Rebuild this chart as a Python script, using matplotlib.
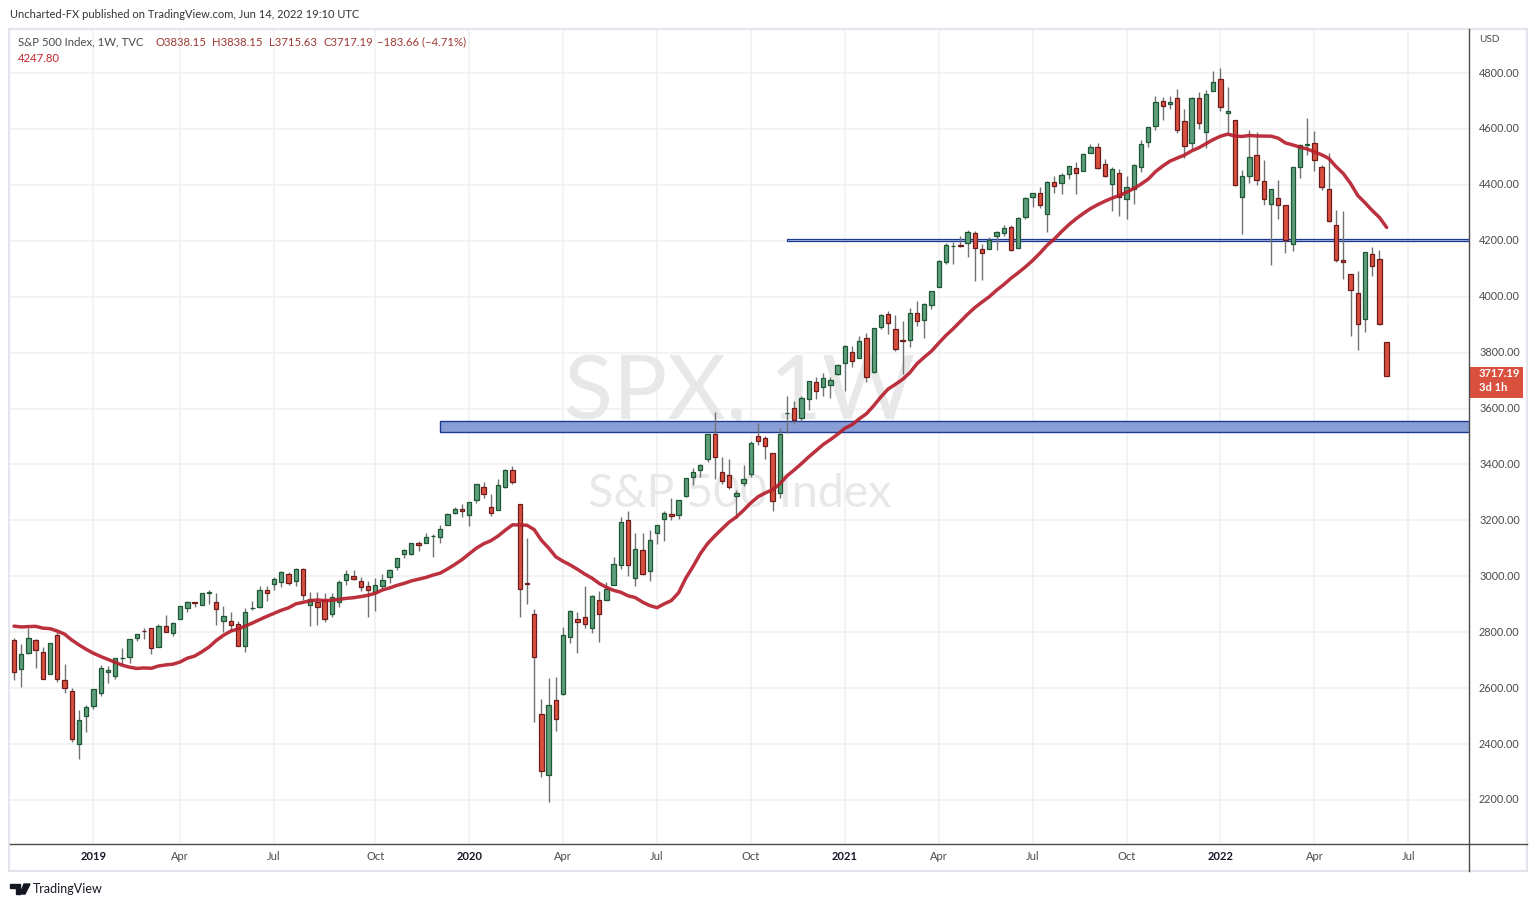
import numpy as np
import pandas as pd
import matplotlib
matplotlib.use("Agg")
import matplotlib.pyplot as plt
from matplotlib.patches import Rectangle, Polygon
from matplotlib.lines import Line2D

plt.rcParams['font.family'] = ['Lato', 'DejaVu Sans']

# weekly S&P 500 bars, first bar = week of 2018-10-22
first_week = "2018-10-22"

# closes of the 19 weeks before the first bar (only used to seed the 20 SMA)
lead_closes = [2779.66, 2754.88, 2718.37, 2759.82, 2801.31, 2801.83, 2818.82, 2840.35,
               2833.28, 2850.13, 2874.69, 2901.52, 2871.68, 2904.98, 2929.67, 2913.98,
               2885.57, 2767.13, 2767.78]

opens = [
    # 2018
    2773.94, 2669.27, 2726.37, 2773.93, 2730.74, 2649.97, 2790.50, 2630.86, 2590.75, 2400.56, 2498.94,
    # 2019
    2535.61, 2582.10, 2657.88, 2644.89, 2706.49, 2712.40, 2780.67, 2804.35, 2814.37, 2747.61, 2822.61,
    2796.01, 2848.63, 2888.32, 2908.32, 2898.78, 2940.58, 2908.89, 2840.19, 2841.94, 2830.03, 2751.53,
    2885.83, 2889.75, 2951.42, 2971.41, 2979.77, 3006.46, 2981.93, 3024.47, 2898.07, 2907.07, 2913.48,
    2866.70, 2909.01, 2988.43, 3001.50, 2983.50, 2967.07, 2944.23, 2965.81, 2996.48, 3032.12, 3078.96,
    3080.33, 3117.91, 3117.44, 3143.85, 3141.86, 3183.63, 3226.05, 3240.09,
    # 2020
    3217.55, 3271.13, 3321.03, 3247.16, 3235.66, 3318.28, 3380.39, 3257.61, 2974.28, 2863.89, 2508.59,
    2290.71, 2558.98, 2578.28, 2782.46, 2845.62, 2854.65, 2815.01, 2915.46, 2913.86, 2969.95, 3038.78,
    3199.92, 2993.76, 3094.42, 3018.59, 3155.29, 3205.08, 3224.29, 3219.84, 3288.26, 3356.04, 3380.86,
    3418.09, 3507.44, 3371.88, 3363.56, 3285.57, 3333.90, 3367.27, 3500.02, 3493.50, 3441.42, 3296.20,
    3583.04, 3600.16, 3566.82, 3634.18, 3694.73, 3675.27, 3684.28, 3723.03,
    # 2021
    3764.61, 3803.14, 3781.88, 3851.68, 3731.17, 3892.59, 3939.61, 3885.55, 3842.51, 3844.39, 3942.96,
    3916.48, 3969.31, 4034.44, 4124.71, 4179.80, 4185.03, 4191.98, 4228.29, 4169.92, 4170.16, 4216.52,
    4229.34, 4248.87, 4173.40, 4284.90, 4356.46, 4372.41, 4296.40, 4409.58, 4406.86, 4437.77, 4461.65,
    4450.29, 4513.76, 4535.38, 4474.81, 4402.95, 4442.12, 4348.84, 4385.44, 4463.72, 4553.69, 4610.62,
    4701.48, 4689.30, 4712.00, 4628.75, 4548.37, 4710.30, 4587.90, 4733.99,
    # 2022
    4778.14, 4655.34, 4632.24, 4356.32, 4431.79, 4505.75, 4412.61, 4332.74, 4354.17, 4327.01, 4188.82,
    4462.40, 4541.09, 4547.97, 4462.64, 4385.63, 4255.34, 4130.61, 4081.27, 4013.02, 3919.42, 4151.09,
    4134.72, 3838.15,
]

highs = [
    2778.94, 2756.55, 2815.15, 2775.99, 2746.75, 2760.88, 2800.18, 2685.44, 2601.13, 2520.27, 2538.07,
    2597.82, 2681.06, 2679.09, 2708.95, 2744.25, 2775.66, 2794.20, 2813.49, 2816.88, 2830.73, 2860.31,
    2836.03, 2893.42, 2910.53, 2909.60, 2940.58, 2949.52, 2939.35, 2892.15, 2871.58, 2840.51, 2884.99,
    2910.61, 2964.15, 2964.92, 2995.84, 3017.80, 3015.02, 3027.98, 3029.37, 2943.31, 2943.31, 2939.08,
    2940.43, 2985.86, 3021.99, 3022.86, 2999.15, 2983.85, 2993.28, 3008.29, 3027.39, 3066.95, 3097.77,
    3120.46, 3127.64, 3154.26, 3150.60, 3182.68, 3225.65, 3247.93, 3258.14,
    3267.07, 3329.88, 3337.77, 3293.47, 3347.96, 3385.09, 3393.52, 3259.81, 3136.72, 2882.59, 2562.98,
    2637.01, 2641.39, 2818.57, 2879.22, 2871.00, 2964.21, 2934.00, 2945.82, 2980.29, 3068.67, 3211.72,
    3233.13, 3155.53, 3154.90, 3165.81, 3184.15, 3235.32, 3279.32, 3272.00, 3352.54, 3387.89, 3399.96,
    3509.44, 3588.11, 3425.55, 3419.48, 3306.88, 3397.18, 3482.34, 3549.85, 3502.42, 3441.42, 3529.05,
    3645.99, 3628.51, 3644.31, 3699.20, 3712.39, 3726.70, 3711.24, 3760.20,
    3826.69, 3823.60, 3859.75, 3870.90, 3889.00, 3937.00, 3950.43, 3933.00, 3914.50, 3960.27, 3983.87,
    3978.19, 4020.63, 4129.48, 4191.31, 4194.17, 4218.78, 4238.04, 4236.39, 4188.00, 4213.42, 4234.12,
    4255.84, 4257.16, 4286.12, 4355.00, 4372.00, 4393.68, 4415.18, 4429.97, 4440.82, 4468.00, 4480.26,
    4513.00, 4545.85, 4549.78, 4492.00, 4465.00, 4457.30, 4429.97, 4475.82, 4559.67, 4608.08, 4718.50,
    4714.00, 4717.75, 4743.83, 4672.95, 4712.60, 4731.99, 4740.74, 4808.93,
    4818.62, 4748.83, 4632.24, 4453.23, 4595.31, 4590.03, 4489.55, 4385.00, 4416.78, 4327.01, 4465.40,
    4546.03, 4637.30, 4593.45, 4471.00, 4512.94, 4308.45, 4307.66, 4081.27, 4090.72, 4158.49, 4177.51,
    4168.78, 3838.15,
]

lows = [
    2628.16, 2603.54, 2722.65, 2670.75, 2631.09, 2649.97, 2621.53, 2583.23, 2408.55, 2346.58, 2443.96,
    2524.56, 2570.41, 2617.27, 2631.05, 2681.83, 2689.67, 2767.14, 2775.13, 2722.27, 2746.02, 2799.20,
    2785.68, 2848.63, 2873.34, 2891.90, 2898.78, 2900.50, 2825.39, 2801.43, 2805.49, 2750.52, 2728.81,
    2880.91, 2887.30, 2912.88, 2952.22, 2963.44, 2970.19, 2966.58, 2914.11, 2822.12, 2825.71, 2834.97,
    2856.00, 2891.85, 2969.39, 2985.67, 2946.01, 2855.94, 2874.93, 2952.86, 2974.56, 3023.19, 3065.89,
    3075.82, 3091.41, 3117.44, 3070.33, 3120.35, 3183.63, 3222.24, 3212.03,
    3181.08, 3263.62, 3281.53, 3214.68, 3235.66, 3315.19, 3328.45, 2855.84, 2901.54, 2478.86, 2280.52,
    2191.86, 2447.49, 2575.00, 2761.52, 2727.10, 2816.78, 2797.85, 2766.64, 2913.86, 2969.95, 3025.00,
    2999.49, 2965.66, 3003.00, 2985.00, 3115.00, 3127.66, 3200.00, 3204.00, 3284.53, 3327.00, 3354.00,
    3410.00, 3349.63, 3329.27, 3313.00, 3209.45, 3323.00, 3354.00, 3469.00, 3419.00, 3233.94, 3279.74,
    3511.91, 3543.00, 3555.00, 3594.00, 3633.00, 3645.00, 3636.00, 3720.00,
    3662.71, 3749.62, 3781.88, 3694.12, 3725.62, 3884.94, 3865.00, 3805.59, 3723.34, 3819.00, 3894.00,
    3853.50, 3955.00, 4034.44, 4118.00, 4118.00, 4176.00, 4142.00, 4056.88, 4061.41, 4170.16, 4167.59,
    4217.00, 4164.40, 4173.40, 4278.00, 4320.00, 4318.00, 4233.13, 4372.00, 4367.00, 4422.00, 4367.73,
    4450.29, 4513.76, 4457.00, 4427.00, 4305.91, 4288.52, 4278.94, 4329.92, 4447.00, 4537.00, 4595.00,
    4630.86, 4672.00, 4585.43, 4495.12, 4529.00, 4600.22, 4531.10, 4733.99,
    4662.74, 4582.24, 4395.34, 4222.62, 4405.00, 4401.00, 4327.22, 4114.65, 4279.00, 4157.87, 4161.72,
    4424.00, 4507.00, 4450.00, 4381.00, 4267.62, 4124.00, 4062.51, 3858.87, 3810.32, 3875.00, 4073.00,
    3900.16, 3715.63,
]

closes = [
    2658.69, 2723.06, 2781.01, 2736.27, 2632.56, 2760.17, 2633.08, 2599.95, 2416.62, 2485.74, 2531.94,
    2596.26, 2670.71, 2664.76, 2706.53, 2707.88, 2775.60, 2792.67, 2803.69, 2743.07, 2822.48, 2800.71,
    2834.40, 2892.74, 2907.41, 2905.03, 2939.88, 2945.64, 2881.40, 2859.53, 2826.06, 2752.06, 2873.34,
    2886.98, 2950.46, 2941.76, 2990.41, 3013.77, 2976.61, 3025.86, 2932.05, 2918.65, 2888.68, 2847.11,
    2926.46, 2978.71, 3007.39, 2992.07, 2961.79, 2952.01, 2970.27, 2986.20, 3022.55, 3066.91, 3093.08,
    3120.46, 3110.29, 3140.98, 3145.91, 3168.80, 3221.22, 3240.02, 3234.85,
    3265.35, 3329.62, 3295.47, 3225.52, 3327.71, 3380.16, 3337.75, 2954.22, 2972.37, 2711.02, 2304.92,
    2541.47, 2488.65, 2789.82, 2874.56, 2836.74, 2830.71, 2929.80, 2863.70, 2955.45, 3044.31, 3193.93,
    3041.31, 3097.74, 3009.05, 3130.01, 3185.04, 3224.73, 3215.63, 3271.12, 3351.28, 3372.85, 3397.16,
    3508.01, 3426.96, 3340.97, 3319.47, 3298.46, 3348.44, 3477.13, 3483.81, 3465.39, 3269.96, 3509.44,
    3585.15, 3557.54, 3638.35, 3699.12, 3663.46, 3709.41, 3703.06, 3756.07,
    3824.68, 3768.25, 3841.47, 3714.24, 3886.83, 3934.83, 3906.71, 3811.15, 3841.94, 3943.34, 3913.10,
    3974.54, 4019.87, 4128.80, 4185.47, 4180.17, 4181.17, 4232.60, 4173.85, 4155.86, 4204.11, 4229.89,
    4247.44, 4166.45, 4280.70, 4352.34, 4369.55, 4327.16, 4411.79, 4395.26, 4436.52, 4468.00, 4441.67,
    4509.37, 4535.43, 4458.58, 4432.99, 4455.48, 4357.04, 4391.34, 4471.37, 4544.90, 4605.38, 4697.53,
    4682.85, 4697.96, 4594.62, 4538.43, 4712.02, 4620.64, 4725.79, 4766.18,
    4677.03, 4662.85, 4397.94, 4431.85, 4500.53, 4418.64, 4348.87, 4384.65, 4328.87, 4204.31, 4463.12,
    4543.06, 4545.86, 4488.28, 4392.59, 4271.78, 4131.93, 4123.34, 4023.89, 3901.36, 4158.24, 4108.54,
    3900.86, 3717.19,
]

price_ticks = [2200, 2400, 2600, 2800, 3000, 3200, 3400, 3600, 3800, 4000, 4200, 4400, 4600, 4800]
zone_low, zone_high = 3515, 3555          # blue support box
zone_start = "2019-12-09"
line_low, line_high = 4198, 4207          # thin blue resistance band
line_start = "2020-11-09"

# header texts as printed on the chart
publisher = "Uncharted-FX published on TradingView.com, Jun 14, 2022 19:10 UTC"
symbol_txt = "S&P 500 Index, 1W, TVC"
ohlc_txt = ["O3838.15", "H3838.15", "L3715.63", "C3717.19", "\u2212183.66 (\u22124.71%)"]
countdown = "3d 1h"

W, H = 1537, 907


def fx(px):
    return px / W


def fy(py):
    return 1 - py / H


o = np.array(opens)
h = np.array(highs)
l = np.array(lows)
c = np.array(closes)
n = len(c)
x = np.arange(n)
weeks = pd.date_range(first_week, periods=n + 12, freq="W-MON")
sma = pd.Series(lead_closes + closes).rolling(20).mean().to_numpy()[len(lead_closes):]

fig = plt.figure(figsize=(W / 100, H / 100), dpi=100)
fig.patch.set_facecolor("white")
ax = fig.add_axes([fx(10), fy(843), fx(1469) - fx(10), fy(30) - fy(843)])
ax.set_xlim(-0.55, 201.4)
ax.set_ylim(2046.2, 4953.8)
for s in ax.spines.values():
    s.set_visible(False)
ax.set_xticks([])
ax.set_yticks([])

# grid
grid_col = "#f0f0f3"
for p in price_ticks:
    ax.axhline(p, color=grid_col, lw=1.1, zorder=0)

tick_pos, tick_lab = [], []
for i in range(1, len(weeks)):
    m = weeks[i].month
    if m != weeks[i - 1].month and m in (1, 4, 7, 10):
        tick_pos.append(i)
        tick_lab.append(str(weeks[i].year) if m == 1 else weeks[i].strftime("%b"))
for t in tick_pos:
    ax.axvline(t, color=grid_col, lw=1.1, zorder=0)

# watermark
ax.text(100.5, 3652, "SPX, 1W", ha="center", va="center", fontsize=65,
        color="#e8e8e8", zorder=1)
ax.text(100.5, 3296, "S&P 500 Index", ha="center", va="center", fontsize=33.5,
        color="#e8e8e8", zorder=1)

# zones
zs = weeks.get_loc(pd.Timestamp(zone_start)) - 0.05
ax.add_patch(Rectangle((zs, zone_low), 300, zone_high - zone_low, facecolor="#8a9ed6",
                       edgecolor="#1c3a94", lw=1.0, zorder=2))
ls = weeks.get_loc(pd.Timestamp(line_start))
ax.add_patch(Rectangle((ls, line_low), 300, line_high - line_low, facecolor="#b9c5ea",
                       edgecolor="#1c3a94", lw=0.9, zorder=2))

# candles
ax.vlines(x, l, h, color="#727272", lw=1.0, zorder=3)
up = c >= o
bot = np.minimum(o, c)
ht = np.maximum(np.abs(c - o), 1.5)
ax.bar(x[up], ht[up], bottom=bot[up], width=0.6, color="#5e9e7a",
       edgecolor="#1d5733", lw=0.9, zorder=4)
ax.bar(x[~up], ht[~up], bottom=bot[~up], width=0.6, color="#d9503f",
       edgecolor="#6e1b1b", lw=0.9, zorder=4)

# 20 week SMA
ax.plot(x, sma, color="#b71f2d", lw=2.5, alpha=0.92, zorder=5, solid_capstyle="round")

# frame
frame = "#e3e5ec"
dark = "#4a4a4a"
fig.add_artist(Rectangle((fx(9), fy(871)), fx(1527) - fx(9), fy(29) - fy(871),
                         transform=fig.transFigure, fill=False, edgecolor=frame, lw=1.5))
fig.add_artist(Line2D([fx(1469), fx(1469)], [fy(29), fy(871)], color=dark, lw=1.0))
fig.add_artist(Line2D([fx(10), fx(1527)], [fy(844), fy(844)], color=dark, lw=1.0))

# time axis labels
for t, lab in zip(tick_pos, tick_lab):
    xp = ax.transData.transform((t, 0))[0]
    bold = lab.isdigit()
    fig.text(xp / W, fy(857), lab, ha="center", va="center", fontsize=8,
             color="#131722" if bold else "#4a4a4a",
             fontweight="bold" if bold else "normal")

# price axis labels
for p in price_ticks:
    yp = ax.transData.transform((0, p))[1]
    fig.text(fx(1479), yp / H, f"{p:.2f}", ha="left", va="center", fontsize=7.8, color="#4a4a4a")
fig.text(fx(1479), fy(40), "USD", ha="left", va="center", fontsize=7.2, color="#4a4a4a")

# last price label
last_y = ax.transData.transform((0, c[-1]))[1]
fig.add_artist(Rectangle((fx(1469), (last_y - 22) / H), fx(54), 31 / H,
                         transform=fig.transFigure, facecolor="#d9503f", edgecolor="none"))
fig.text(fx(1479), (last_y + 2) / H, f"{c[-1]:.2f}", ha="left", va="center", fontsize=8,
         color="white", fontweight="bold")
fig.text(fx(1479), (last_y - 12) / H, countdown, ha="left", va="center", fontsize=8,
         color="white", fontweight="bold")

# header
fig.text(fx(10), fy(14), publisher, ha="left", va="center", fontsize=8, color="#333333")
fig.text(fx(18), fy(42), symbol_txt, ha="left", va="center", fontsize=8.2, color="#4a4a4a")
ohlc_col = "#9c3a34"
for px, txt in zip([156, 212, 269, 324, 377], ohlc_txt):
    fig.text(fx(px), fy(42), txt, ha="left", va="center", fontsize=8.2, color=ohlc_col)
fig.text(fx(18), fy(58), f"{sma[-1]:.2f}", ha="left", va="center", fontsize=8.2, color="#c2262e")

# TradingView logo
fig.add_artist(Polygon([(fx(10), fy(884)), (fx(20), fy(884)), (fx(20), fy(894)), (fx(16), fy(894)),
                        (fx(16), fy(888)), (fx(10), fy(888))], closed=True,
                       transform=fig.transFigure, color="#131722"))
fig.add_artist(Polygon([(fx(24), fy(884)), (fx(30), fy(884)), (fx(25), fy(894)), (fx(20), fy(894))],
                       closed=True, transform=fig.transFigure, color="#131722"))
fig.text(fx(33), fy(889), "TradingView", ha="left", va="center", fontsize=9, color="#131722")

fig.savefig("out.png", dpi=100, facecolor="white")
